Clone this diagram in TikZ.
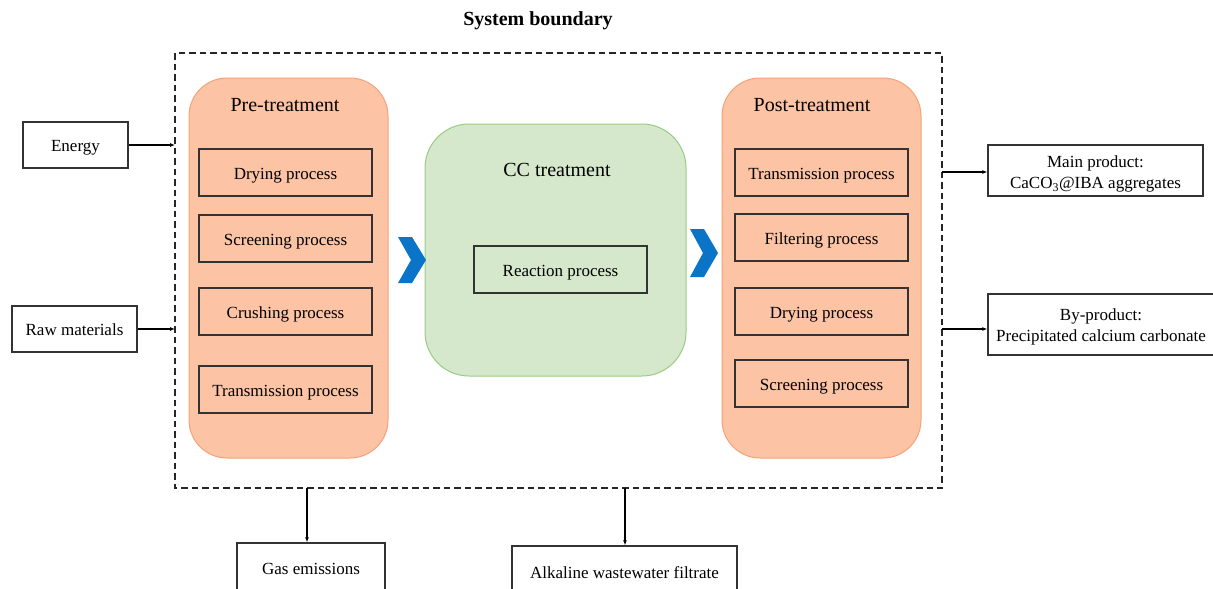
\documentclass[tikz,border=0pt]{standalone}
\usepackage{fontspec}
\setmainfont{Liberation Serif}
\usetikzlibrary{arrows.meta}
\definecolor{salmonfill}{HTML}{FCC3A4}
\definecolor{salmonline}{HTML}{F6A27A}
\definecolor{greenfill}{HTML}{D6E8CB}
\definecolor{greenline}{HTML}{99CC80}
\definecolor{chevblue}{HTML}{0A74C8}
\definecolor{boxline}{HTML}{333333}
\tikzset{
  stage/.style={draw=salmonline, fill=salmonfill, line width=1pt, rounded corners=38pt},
  ccstage/.style={draw=greenline, fill=greenfill, line width=1pt, rounded corners=44pt},
  procbox/.style={draw=boxline, line width=1.3pt, minimum width=173pt, minimum height=47pt, inner sep=0pt, text height=15pt, text depth=2pt, font=\fontsize{17}{20}\selectfont},
  iobox/.style={draw=boxline, line width=1.3pt, inner sep=0pt, font=\fontsize{17}{21}\selectfont},
  iotext/.style={inner sep=0pt, align=center, font=\fontsize{17}{21}\selectfont},
  stitle/.style={font=\fontsize{20}{24}\selectfont},
  flow/.style={line width=1.3pt, -{Latex[length=5pt,width=4pt]}},
  boundary/.style={draw=black!85, line width=2pt, dash pattern=on 6.5pt off 4pt},
  chevron/.style={fill=chevblue, draw=none}
}
\begin{document}
\begin{tikzpicture}[x=1pt,y=-1pt]
\useasboundingbox (0,0) rectangle (1213,589);
\clip (0,0) rectangle (1213,589);
% title
\node[font=\fontsize{20}{24}\selectfont\bfseries] (title) at (538,21) {System boundary};
% boundary
\draw[boundary] (175,53) rectangle (942,488);
\coordinate (bL1) at (175,145);
\coordinate (bL2) at (175,329);
\coordinate (bR1) at (942,172);
\coordinate (bR2) at (942,329);
\coordinate (bB1) at (307,488);
\coordinate (bB2) at (625,488);
% pre-treatment
\draw[stage] (189,78) rectangle (388,458);
\node[stitle] (pre) at (285,105) {Pre-treatment};
\node[procbox] (p1) at (285.5,172.5) {Drying process};
\node[procbox] (p2) at (285.5,238.5) {Screening process};
\node[procbox] (p3) at (285.5,311.5) {Crushing process};
\node[procbox] (p4) at (285.5,389.5) {Transmission process};
% CC treatment
\draw[ccstage] (425,124) rectangle (686,376);
\node[stitle] (cc) at (557,170) {CC treatment};
\node[procbox] (r1) at (560.5,269.5) {Reaction process};
% post-treatment
\draw[stage] (722,78) rectangle (921,458);
\node[stitle] (post) at (812,105) {Post-treatment};
\node[procbox] (q1) at (821.5,172.5) {Transmission process};
\node[procbox] (q2) at (821.5,237.5) {Filtering process};
\node[procbox] (q3) at (821.5,311.5) {Drying process};
\node[procbox] (q4) at (821.5,383.5) {Screening process};
% chevrons
\fill[chevron] (398,237) -- (412,237) -- (426,260) -- (412,283) -- (398,283) -- (411,260) -- cycle;
\fill[chevron] (690,229) -- (704,229) -- (718,253) -- (704,277) -- (690,277) -- (703,253) -- cycle;
% inputs
\node[iobox, minimum width=105pt, minimum height=46pt, text height=15pt, text depth=2pt] (energy) at (75.5,145) {Energy};
\node[iobox, minimum width=125pt, minimum height=46pt, text height=15pt, text depth=2pt] (raw) at (74.5,329) {Raw materials};
\draw[flow] (energy.east) -- (bL1);
\draw[flow] (raw.east) -- (bL2);
% outputs
\node[iobox, minimum width=215pt, minimum height=51pt] (main) at (1095.5,170.5) {};
\node[iotext] (maintext) at ([yshift=-3.5pt]main.center) {Main product:\\CaCO\textsubscript{3}@IBA aggregates};
\node[iobox, minimum width=232pt, minimum height=61pt] (by) at (1104,324.5) {};
\node[iotext] (bytext) at ([yshift=-2.5pt,xshift=-3pt]by.center) {By-product:\\Precipitated calcium carbonate};
\draw[flow] (bR1) -- (main.west|-bR1);
\draw[flow] (bR2) -- (by.west|-bR2);
\node[iobox, minimum width=148pt, minimum height=56pt] (gas) at (311,571) {\raisebox{5pt}{Gas emissions}};
\node[iobox, minimum width=225pt, minimum height=54pt] (alk) at (624.5,573) {Alkaline wastewater filtrate};
\draw[flow] (bB1) -- (bB1|-gas.north);
\draw[flow] (bB2) -- (bB2|-alk.north);
\end{tikzpicture}
\end{document}
